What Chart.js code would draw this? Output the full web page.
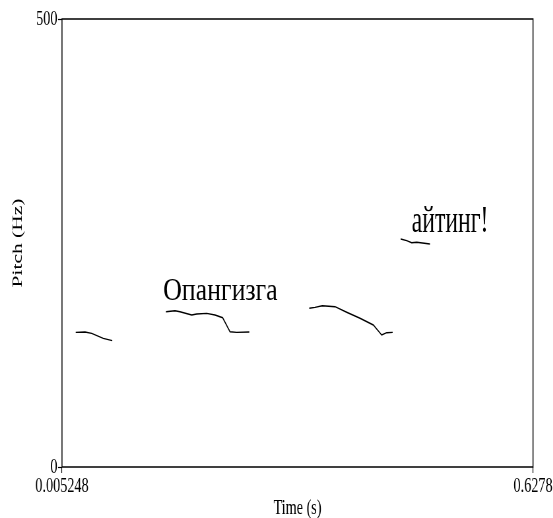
<!DOCTYPE html>
<html><head><meta charset="utf-8">
<script src="https://cdn.jsdelivr.net/npm/chart.js@4"></script>
<style>
html,body{margin:0;padding:0;background:#fff;overflow:hidden}
/* the reference picture is horizontally squashed, so draw wide and squash */
#wrap{width:838px;height:518px;transform:scaleX(0.66);transform-origin:0 0}
</style></head><body>
<div id="wrap"><canvas id="c" width="838" height="518"></canvas></div>
<script>
const timeRange = [0.005248, 0.6278];
const pitchRange = [0, 500];
const xTickLabels = ['0.005248', '0.6278'];
const yTickLabels = ['0', '500'];

// pitch contours (s, Hz), one array pair per voiced stretch
const seg1Time = [0.0234, 0.0357, 0.0445, 0.0598, 0.0717];
const seg1Hz   = [150.3, 150.7, 149.2, 143.6, 141.0];
const seg2Time = [0.1427, 0.1546, 0.1612, 0.1767, 0.1833, 0.1965, 0.2075, 0.2176, 0.2273, 0.2361, 0.2528];
const seg2Hz   = [173.3, 174.4, 173.3, 169.6, 170.8, 171.5, 169.6, 166.6, 151.0, 150.3, 150.7];
const seg3Time = [0.3321, 0.3396, 0.3493, 0.3661, 0.3815, 0.3991, 0.4167, 0.4278, 0.4344, 0.4423];
const seg3Hz   = [177.1, 178.2, 180.0, 178.9, 172.7, 166.0, 158.5, 147.3, 149.9, 150.3];
const seg4Time = [0.4529, 0.4608, 0.4674, 0.4741, 0.4916];
const seg4Hz   = [254.5, 252.6, 250.3, 250.8, 248.9];

// words written over the contour
const wordText  = ['Опангизга', 'айтинг!'];
const wordStart = [0.1391, 0.4675];
const wordEnd   = [0.2903, 0.5687];
const wordHz    = [186.4, 262.6];

const segments = [[seg1Time, seg1Hz], [seg2Time, seg2Hz], [seg3Time, seg3Hz], [seg4Time, seg4Hz]];
const FONT = 'Liberation Serif';

const boxPlugin = {
  id: 'box',
  afterDatasetsDraw(chart) {
    const {ctx, chartArea: a} = chart;
    ctx.save();
    ctx.strokeStyle = '#000';
    ctx.lineWidth = 1.5;
    ctx.strokeRect(a.left, a.top, a.right - a.left, a.bottom - a.top);
    ctx.restore();
  }
};

const wordPlugin = {
  id: 'words',
  afterDatasetsDraw(chart) {
    const {ctx} = chart;
    const xs = chart.scales.x, ys = chart.scales.y;
    const sizes = [31, 37];
    ctx.save();
    ctx.fillStyle = '#000';
    ctx.textBaseline = 'alphabetic';
    wordText.forEach((w, i) => {
      const x0 = xs.getPixelForValue(wordStart[i]);
      const x1 = xs.getPixelForValue(wordEnd[i]);
      const y = ys.getPixelForValue(wordHz[i]);
      ctx.font = sizes[i] + 'px "' + FONT + '"';
      const tw = ctx.measureText(w).width;
      ctx.save();
      ctx.translate(x0, y);
      ctx.scale((x1 - x0) / tw, 1);
      ctx.fillText(w, 0, 0);
      ctx.restore();
    });
    ctx.restore();
  }
};

new Chart(document.getElementById('c'), {
  type: 'line',
  data: {
    datasets: segments.map(([t, hz]) => ({
      data: t.map((v, i) => ({x: v, y: hz[i]})),
      borderColor: '#000',
      borderWidth: 1.4,
      pointRadius: 0,
      tension: 0,
      fill: false
    }))
  },
  options: {
    responsive: false,
    animation: false,
    layout: { padding: { left: 0, top: 19, right: 30.4, bottom: 0 } },
    plugins: { legend: { display: false }, tooltip: { enabled: false } },
    scales: {
      x: {
        type: 'linear',
        min: timeRange[0], max: timeRange[1],
        afterBuildTicks: s => { s.ticks = timeRange.map(v => ({value: v})); },
        afterFit: s => { s.height = 51; },
        ticks: { callback: (v, i) => xTickLabels[i], color: '#000', font: {family: FONT, size: 21.5}, maxRotation: 0, autoSkip: false, padding: 0 },
        grid: { drawOnChartArea: false, tickLength: 6, tickColor: '#000', tickWidth: 1.2 },
        border: { display: false },
        title: { display: true, text: 'Time (s)', color: '#000', font: {family: FONT, size: 21.5}, padding: {top: 0, bottom: -3} }
      },
      y: {
        min: pitchRange[0], max: pitchRange[1],
        afterBuildTicks: s => { s.ticks = pitchRange.map(v => ({value: v})); },
        afterFit: s => { s.width = 93.9; },
        ticks: { callback: (v, i) => yTickLabels[i], color: '#000', font: {family: FONT, size: 21.5}, autoSkip: false, padding: 1 },
        grid: { drawOnChartArea: false, tickLength: 6, tickColor: '#000', tickWidth: 1.2 },
        border: { display: false },
        title: { display: true, text: 'Pitch (Hz)', color: '#000', font: {family: FONT, size: 21.5}, padding: {top: 14, bottom: 0} }
      }
    }
  },
  plugins: [boxPlugin, wordPlugin]
});
</script>
</body></html>
